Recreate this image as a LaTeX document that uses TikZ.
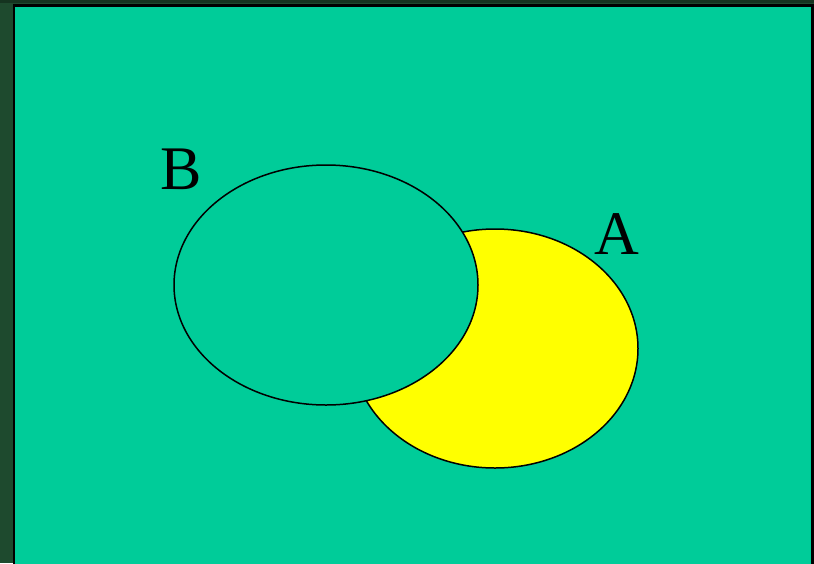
\documentclass[tikz,border=0pt]{standalone}
\usepackage{fontspec}
\setmainfont{Liberation Serif}
\usetikzlibrary{shapes.geometric}
\definecolor{marble}{HTML}{1E4A2E}
\definecolor{tealc}{HTML}{00CC99}
\definecolor{yel}{HTML}{FFFF00}
\tikzset{
  setshape/.style={draw=black, line width=1.5pt},
  setlabel/.style={font=\fontsize{62}{62}\selectfont, text=black, inner sep=0pt, anchor=base}
}
\begin{document}
\begin{tikzpicture}[x=1pt,y=-1pt]
\useasboundingbox (0,0) rectangle (814,563);
\fill[marble] (0,0) rectangle (814,563);
\fill[marble!70!black] (0,0) rectangle (814,3);
\draw[fill=tealc, draw=black, line width=2.5pt] (14,5.5) rectangle (812.5,575);
\node[setshape, fill=yel, ellipse, minimum width=286pt, minimum height=239pt, inner sep=0pt] (A) at (495,348.5) {};
\node[setshape, fill=tealc, ellipse, minimum width=304pt, minimum height=240pt, inner sep=0pt] (B) at (326,285) {};
\node[setlabel] (labB) at (181.5,189) {B};
\node[setlabel] (labA) at (616.5,254.5) {A};
\end{tikzpicture}
\end{document}
